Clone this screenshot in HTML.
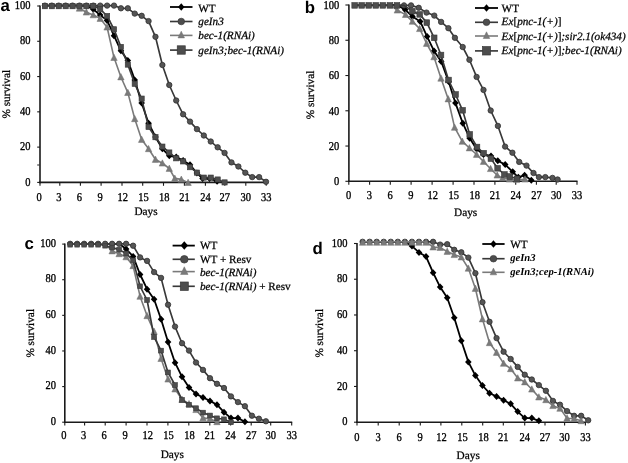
<!DOCTYPE html>
<html><head><meta charset="utf-8"><style>
html,body{margin:0;padding:0;background:#fff;width:628px;height:463px;overflow:hidden}
svg{display:block;will-change:transform;text-rendering:geometricPrecision}
.t{font-family:"Liberation Serif",serif;font-size:10.5px;fill:#000;stroke:#000;stroke-width:0.3px}
.l{font-family:"Liberation Serif",serif;font-size:11.2px;fill:#000;stroke:#000;stroke-width:0.25px}
.h{font-family:"Liberation Serif",serif;font-size:11.3px;fill:#000;stroke:#000;stroke-width:0.25px}
.p{font-family:"Liberation Sans",sans-serif;font-weight:bold;font-size:16.8px;fill:#000}
</style></head><body>
<svg width="628" height="463" viewBox="0 0 628 463">
<rect width="628" height="463" fill="#fff"/>
<line x1="40" y1="5.5" x2="40" y2="183.2" stroke="#1a1a1a" stroke-width="1.6"/>
<line x1="39.2" y1="182.4" x2="266.8" y2="182.4" stroke="#1a1a1a" stroke-width="1.6"/>
<line x1="37.2" y1="182.4" x2="40" y2="182.4" stroke="#1a1a1a" stroke-width="1.1"/>
<text transform="translate(30.4,185.6) scale(1,1.14)" text-anchor="end" class="t">0</text>
<line x1="37.2" y1="147.12" x2="40" y2="147.12" stroke="#1a1a1a" stroke-width="1.1"/>
<text transform="translate(30.4,150.32) scale(1,1.14)" text-anchor="end" class="t">20</text>
<line x1="37.2" y1="111.84" x2="40" y2="111.84" stroke="#1a1a1a" stroke-width="1.1"/>
<text transform="translate(30.4,115.04) scale(1,1.14)" text-anchor="end" class="t">40</text>
<line x1="37.2" y1="76.56" x2="40" y2="76.56" stroke="#1a1a1a" stroke-width="1.1"/>
<text transform="translate(30.4,79.76) scale(1,1.14)" text-anchor="end" class="t">60</text>
<line x1="37.2" y1="41.28" x2="40" y2="41.28" stroke="#1a1a1a" stroke-width="1.1"/>
<text transform="translate(30.4,44.48) scale(1,1.14)" text-anchor="end" class="t">80</text>
<line x1="37.2" y1="6" x2="40" y2="6" stroke="#1a1a1a" stroke-width="1.1"/>
<text transform="translate(30.4,9.2) scale(1,1.14)" text-anchor="end" class="t">100</text>
<line x1="40" y1="182.4" x2="40" y2="185.8" stroke="#1a1a1a" stroke-width="1.1"/>
<text transform="translate(39,201.1) scale(1,1.14)" text-anchor="middle" class="t">0</text>
<line x1="59.8" y1="182.4" x2="59.8" y2="185.8" stroke="#1a1a1a" stroke-width="1.1"/>
<text transform="translate(58.8,201.1) scale(1,1.14)" text-anchor="middle" class="t">3</text>
<line x1="80.4" y1="182.4" x2="80.4" y2="185.8" stroke="#1a1a1a" stroke-width="1.1"/>
<text transform="translate(79.4,201.1) scale(1,1.14)" text-anchor="middle" class="t">6</text>
<line x1="101.1" y1="182.4" x2="101.1" y2="185.8" stroke="#1a1a1a" stroke-width="1.1"/>
<text transform="translate(100.1,201.1) scale(1,1.14)" text-anchor="middle" class="t">9</text>
<line x1="122" y1="182.4" x2="122" y2="185.8" stroke="#1a1a1a" stroke-width="1.1"/>
<text transform="translate(122.7,201.1) scale(1,1.14)" text-anchor="middle" class="t">12</text>
<line x1="142.7" y1="182.4" x2="142.7" y2="185.8" stroke="#1a1a1a" stroke-width="1.1"/>
<text transform="translate(143.4,201.1) scale(1,1.14)" text-anchor="middle" class="t">15</text>
<line x1="163.5" y1="182.4" x2="163.5" y2="185.8" stroke="#1a1a1a" stroke-width="1.1"/>
<text transform="translate(164.2,201.1) scale(1,1.14)" text-anchor="middle" class="t">18</text>
<line x1="184.4" y1="182.4" x2="184.4" y2="185.8" stroke="#1a1a1a" stroke-width="1.1"/>
<text transform="translate(184.4,201.1) scale(1,1.14)" text-anchor="middle" class="t">21</text>
<line x1="205.4" y1="182.4" x2="205.4" y2="185.8" stroke="#1a1a1a" stroke-width="1.1"/>
<text transform="translate(205.4,201.1) scale(1,1.14)" text-anchor="middle" class="t">24</text>
<line x1="224.8" y1="182.4" x2="224.8" y2="185.8" stroke="#1a1a1a" stroke-width="1.1"/>
<text transform="translate(224.8,201.1) scale(1,1.14)" text-anchor="middle" class="t">27</text>
<line x1="245.8" y1="182.4" x2="245.8" y2="185.8" stroke="#1a1a1a" stroke-width="1.1"/>
<text transform="translate(245.8,201.1) scale(1,1.14)" text-anchor="middle" class="t">30</text>
<line x1="266.2" y1="182.4" x2="266.2" y2="185.8" stroke="#1a1a1a" stroke-width="1.1"/>
<text transform="translate(266.2,201.1) scale(1,1.14)" text-anchor="middle" class="t">33</text>
<line x1="37.2" y1="165" x2="40" y2="165" stroke="#333" stroke-width="1.1"/>
<polyline fill="none" stroke="#000" stroke-width="1.8" stroke-linejoin="round" points="44.91,5.6 51.82,5.6 58.73,5.6 65.64,5.6 72.55,5.6 79.46,5.6 86.37,5.6 93.28,9.2 100.19,15.1 107.1,20.4 114.01,35.7 120.92,50.8 127.83,60.5 134.74,79.9 141.65,103 148.56,123.2 155.47,137 162.38,148.8 169.29,155.8 176.2,157 183.11,160.4 190.02,164.8 196.93,173 202.6,178.6 209.5,178.6 217.1,181.2"/>
<polygon points="93.28,5.7 96.58,9.2 93.28,12.7 89.98,9.2" fill="#000"/>
<polygon points="100.19,11.6 103.49,15.1 100.19,18.6 96.89,15.1" fill="#000"/>
<polygon points="107.1,16.9 110.4,20.4 107.1,23.9 103.8,20.4" fill="#000"/>
<polygon points="114.01,32.2 117.31,35.7 114.01,39.2 110.71,35.7" fill="#000"/>
<polygon points="120.92,47.3 124.22,50.8 120.92,54.3 117.62,50.8" fill="#000"/>
<polygon points="127.83,57 131.13,60.5 127.83,64 124.53,60.5" fill="#000"/>
<polygon points="134.74,76.4 138.04,79.9 134.74,83.4 131.44,79.9" fill="#000"/>
<polygon points="141.65,99.5 144.95,103 141.65,106.5 138.35,103" fill="#000"/>
<polygon points="148.56,119.7 151.86,123.2 148.56,126.7 145.26,123.2" fill="#000"/>
<polygon points="155.47,133.5 158.77,137 155.47,140.5 152.17,137" fill="#000"/>
<polygon points="162.38,145.3 165.68,148.8 162.38,152.3 159.08,148.8" fill="#000"/>
<polygon points="169.29,152.3 172.59,155.8 169.29,159.3 165.99,155.8" fill="#000"/>
<polygon points="176.2,153.5 179.5,157 176.2,160.5 172.9,157" fill="#000"/>
<polygon points="183.11,156.9 186.41,160.4 183.11,163.9 179.81,160.4" fill="#000"/>
<polygon points="190.02,161.3 193.32,164.8 190.02,168.3 186.72,164.8" fill="#000"/>
<polygon points="196.93,169.5 200.23,173 196.93,176.5 193.63,173" fill="#000"/>
<polygon points="202.6,175.1 205.9,178.6 202.6,182.1 199.3,178.6" fill="#000"/>
<polygon points="209.5,175.1 212.8,178.6 209.5,182.1 206.2,178.6" fill="#000"/>
<polygon points="217.1,177.7 220.4,181.2 217.1,184.7 213.8,181.2" fill="#000"/>
<polyline fill="none" stroke="#383838" stroke-width="1.65" stroke-linejoin="round" points="44.91,5.6 51.82,5.6 58.73,5.6 65.64,5.6 72.55,5.6 79.46,5.6 86.37,5.6 93.28,5.6 100.19,5.6 107.1,5.6 114.01,5.6 120.92,8.3 127.83,8.3 134.74,13.6 141.65,15.8 148.56,21.1 155.47,36.8 162.38,65 169.29,85 176.2,100.5 183.11,114.3 190.02,121.6 196.93,129.1 203.84,135.5 210.75,141.5 217.66,147.3 224.57,152.9 231.48,162.4 238.39,166.5 245.3,172.7 252.21,177.1 259.12,177.1 266.03,181.8"/>
<circle cx="44.91" cy="5.6" r="2.7" fill="#555" stroke="#303030" stroke-width="0.8"/>
<circle cx="51.82" cy="5.6" r="2.7" fill="#555" stroke="#303030" stroke-width="0.8"/>
<circle cx="58.73" cy="5.6" r="2.7" fill="#555" stroke="#303030" stroke-width="0.8"/>
<circle cx="65.64" cy="5.6" r="2.7" fill="#555" stroke="#303030" stroke-width="0.8"/>
<circle cx="72.55" cy="5.6" r="2.7" fill="#555" stroke="#303030" stroke-width="0.8"/>
<circle cx="79.46" cy="5.6" r="2.7" fill="#555" stroke="#303030" stroke-width="0.8"/>
<circle cx="86.37" cy="5.6" r="2.7" fill="#555" stroke="#303030" stroke-width="0.8"/>
<circle cx="93.28" cy="5.6" r="2.7" fill="#555" stroke="#303030" stroke-width="0.8"/>
<circle cx="100.19" cy="5.6" r="2.7" fill="#555" stroke="#303030" stroke-width="0.8"/>
<circle cx="107.1" cy="5.6" r="2.7" fill="#555" stroke="#303030" stroke-width="0.8"/>
<circle cx="114.01" cy="5.6" r="2.7" fill="#555" stroke="#303030" stroke-width="0.8"/>
<circle cx="120.92" cy="8.3" r="2.7" fill="#555" stroke="#303030" stroke-width="0.8"/>
<circle cx="127.83" cy="8.3" r="2.7" fill="#555" stroke="#303030" stroke-width="0.8"/>
<circle cx="134.74" cy="13.6" r="2.7" fill="#555" stroke="#303030" stroke-width="0.8"/>
<circle cx="141.65" cy="15.8" r="2.7" fill="#555" stroke="#303030" stroke-width="0.8"/>
<circle cx="148.56" cy="21.1" r="2.7" fill="#555" stroke="#303030" stroke-width="0.8"/>
<circle cx="155.47" cy="36.8" r="2.7" fill="#555" stroke="#303030" stroke-width="0.8"/>
<circle cx="162.38" cy="65" r="2.7" fill="#555" stroke="#303030" stroke-width="0.8"/>
<circle cx="169.29" cy="85" r="2.7" fill="#555" stroke="#303030" stroke-width="0.8"/>
<circle cx="176.2" cy="100.5" r="2.7" fill="#555" stroke="#303030" stroke-width="0.8"/>
<circle cx="183.11" cy="114.3" r="2.7" fill="#555" stroke="#303030" stroke-width="0.8"/>
<circle cx="190.02" cy="121.6" r="2.7" fill="#555" stroke="#303030" stroke-width="0.8"/>
<circle cx="196.93" cy="129.1" r="2.7" fill="#555" stroke="#303030" stroke-width="0.8"/>
<circle cx="203.84" cy="135.5" r="2.7" fill="#555" stroke="#303030" stroke-width="0.8"/>
<circle cx="210.75" cy="141.5" r="2.7" fill="#555" stroke="#303030" stroke-width="0.8"/>
<circle cx="217.66" cy="147.3" r="2.7" fill="#555" stroke="#303030" stroke-width="0.8"/>
<circle cx="224.57" cy="152.9" r="2.7" fill="#555" stroke="#303030" stroke-width="0.8"/>
<circle cx="231.48" cy="162.4" r="2.7" fill="#555" stroke="#303030" stroke-width="0.8"/>
<circle cx="238.39" cy="166.5" r="2.7" fill="#555" stroke="#303030" stroke-width="0.8"/>
<circle cx="245.3" cy="172.7" r="2.7" fill="#555" stroke="#303030" stroke-width="0.8"/>
<circle cx="252.21" cy="177.1" r="2.7" fill="#555" stroke="#303030" stroke-width="0.8"/>
<circle cx="259.12" cy="177.1" r="2.7" fill="#555" stroke="#303030" stroke-width="0.8"/>
<circle cx="266.03" cy="181.8" r="2.7" fill="#555" stroke="#303030" stroke-width="0.8"/>
<polyline fill="none" stroke="#7a7a7a" stroke-width="1.6" stroke-linejoin="round" points="44.91,5.6 51.82,5.6 58.73,5.6 65.64,5.6 72.55,5.6 79.46,8.3 86.37,12.2 93.28,14.9 100.19,18.5 107.1,27.2 114.01,57.6 120.92,77 127.83,92.6 134.74,118.8 141.65,139.5 148.56,148.8 155.47,159.5 162.38,163.2 169.29,168.5 174.8,178.4 181.3,179.4 188.1,182.6"/>
<polygon points="79.46,4.9 82.66,11.19 76.26,11.19" fill="#7a7a7a" stroke="#707070" stroke-width="0.5"/>
<polygon points="86.37,8.8 89.57,15.09 83.17,15.09" fill="#7a7a7a" stroke="#707070" stroke-width="0.5"/>
<polygon points="93.28,11.5 96.48,17.79 90.08,17.79" fill="#7a7a7a" stroke="#707070" stroke-width="0.5"/>
<polygon points="100.19,15.1 103.39,21.39 96.99,21.39" fill="#7a7a7a" stroke="#707070" stroke-width="0.5"/>
<polygon points="107.1,23.8 110.3,30.09 103.9,30.09" fill="#7a7a7a" stroke="#707070" stroke-width="0.5"/>
<polygon points="114.01,54.2 117.21,60.49 110.81,60.49" fill="#7a7a7a" stroke="#707070" stroke-width="0.5"/>
<polygon points="120.92,73.6 124.12,79.89 117.72,79.89" fill="#7a7a7a" stroke="#707070" stroke-width="0.5"/>
<polygon points="127.83,89.2 131.03,95.49 124.63,95.49" fill="#7a7a7a" stroke="#707070" stroke-width="0.5"/>
<polygon points="134.74,115.4 137.94,121.69 131.54,121.69" fill="#7a7a7a" stroke="#707070" stroke-width="0.5"/>
<polygon points="141.65,136.1 144.85,142.39 138.45,142.39" fill="#7a7a7a" stroke="#707070" stroke-width="0.5"/>
<polygon points="148.56,145.4 151.76,151.69 145.36,151.69" fill="#7a7a7a" stroke="#707070" stroke-width="0.5"/>
<polygon points="155.47,156.1 158.67,162.39 152.27,162.39" fill="#7a7a7a" stroke="#707070" stroke-width="0.5"/>
<polygon points="162.38,159.8 165.58,166.09 159.18,166.09" fill="#7a7a7a" stroke="#707070" stroke-width="0.5"/>
<polygon points="169.29,165.1 172.49,171.39 166.09,171.39" fill="#7a7a7a" stroke="#707070" stroke-width="0.5"/>
<polygon points="174.8,175 178,181.29 171.6,181.29" fill="#7a7a7a" stroke="#707070" stroke-width="0.5"/>
<polygon points="181.3,176 184.5,182.29 178.1,182.29" fill="#7a7a7a" stroke="#707070" stroke-width="0.5"/>
<polygon points="188.1,179.2 191.3,185.49 184.9,185.49" fill="#7a7a7a" stroke="#707070" stroke-width="0.5"/>
<polyline fill="none" stroke="#383838" stroke-width="1.65" stroke-linejoin="round" points="44.91,5.6 51.82,5.6 58.73,5.6 65.64,5.6 72.55,5.6 79.46,5.6 86.37,5.6 93.28,5.6 100.19,9.2 107.1,16 114.01,29.3 120.92,46.9 127.83,64.6 134.74,83.8 141.65,98.6 148.56,127 155.47,137.2 162.38,146.6 169.29,152.5 176.2,158.3 183.11,161.4 190.02,167.2 196.93,172.6 203.84,177.6 210.75,177.6 217.66,179.5 224.57,182.4"/>
<rect x="42.31" y="3.6" width="5.2" height="5.2" fill="#4d4d4d" stroke="#383838" stroke-width="0.6"/>
<rect x="49.22" y="3.6" width="5.2" height="5.2" fill="#4d4d4d" stroke="#383838" stroke-width="0.6"/>
<rect x="56.13" y="3.6" width="5.2" height="5.2" fill="#4d4d4d" stroke="#383838" stroke-width="0.6"/>
<rect x="63.04" y="3.6" width="5.2" height="5.2" fill="#4d4d4d" stroke="#383838" stroke-width="0.6"/>
<rect x="69.95" y="3.6" width="5.2" height="5.2" fill="#4d4d4d" stroke="#383838" stroke-width="0.6"/>
<rect x="76.86" y="3.6" width="5.2" height="5.2" fill="#4d4d4d" stroke="#383838" stroke-width="0.6"/>
<rect x="83.77" y="3.6" width="5.2" height="5.2" fill="#4d4d4d" stroke="#383838" stroke-width="0.6"/>
<rect x="90.68" y="3.6" width="5.2" height="5.2" fill="#4d4d4d" stroke="#383838" stroke-width="0.6"/>
<rect x="97.59" y="6.6" width="5.2" height="5.2" fill="#4d4d4d" stroke="#383838" stroke-width="0.6"/>
<rect x="104.5" y="13.4" width="5.2" height="5.2" fill="#4d4d4d" stroke="#383838" stroke-width="0.6"/>
<rect x="111.41" y="26.7" width="5.2" height="5.2" fill="#4d4d4d" stroke="#383838" stroke-width="0.6"/>
<rect x="118.32" y="44.3" width="5.2" height="5.2" fill="#4d4d4d" stroke="#383838" stroke-width="0.6"/>
<rect x="125.23" y="62" width="5.2" height="5.2" fill="#4d4d4d" stroke="#383838" stroke-width="0.6"/>
<rect x="132.14" y="81.2" width="5.2" height="5.2" fill="#4d4d4d" stroke="#383838" stroke-width="0.6"/>
<rect x="139.05" y="96" width="5.2" height="5.2" fill="#4d4d4d" stroke="#383838" stroke-width="0.6"/>
<rect x="145.96" y="124.4" width="5.2" height="5.2" fill="#4d4d4d" stroke="#383838" stroke-width="0.6"/>
<rect x="152.87" y="134.6" width="5.2" height="5.2" fill="#4d4d4d" stroke="#383838" stroke-width="0.6"/>
<rect x="159.78" y="144" width="5.2" height="5.2" fill="#4d4d4d" stroke="#383838" stroke-width="0.6"/>
<rect x="166.69" y="149.9" width="5.2" height="5.2" fill="#4d4d4d" stroke="#383838" stroke-width="0.6"/>
<rect x="173.6" y="155.7" width="5.2" height="5.2" fill="#4d4d4d" stroke="#383838" stroke-width="0.6"/>
<rect x="180.51" y="158.8" width="5.2" height="5.2" fill="#4d4d4d" stroke="#383838" stroke-width="0.6"/>
<rect x="187.42" y="164.6" width="5.2" height="5.2" fill="#4d4d4d" stroke="#383838" stroke-width="0.6"/>
<rect x="194.33" y="170" width="5.2" height="5.2" fill="#4d4d4d" stroke="#383838" stroke-width="0.6"/>
<rect x="201.24" y="175" width="5.2" height="5.2" fill="#4d4d4d" stroke="#383838" stroke-width="0.6"/>
<rect x="208.15" y="175" width="5.2" height="5.2" fill="#4d4d4d" stroke="#383838" stroke-width="0.6"/>
<rect x="215.06" y="176.9" width="5.2" height="5.2" fill="#4d4d4d" stroke="#383838" stroke-width="0.6"/>
<rect x="221.97" y="179.8" width="5.2" height="5.2" fill="#4d4d4d" stroke="#383838" stroke-width="0.6"/>
<line x1="170" y1="7" x2="192.5" y2="7" stroke="#000" stroke-width="1.8"/>
<polygon points="181.25,3.3 184.45,7 181.25,10.7 178.05,7" fill="#000"/>
<text x="198.3" y="11.7" class="l">WT</text>
<line x1="170" y1="21.5" x2="192.5" y2="21.5" stroke="#383838" stroke-width="1.65"/>
<circle cx="181.25" cy="21.5" r="3.3" fill="#4d4d4d" stroke="#383838" stroke-width="0.7"/>
<text x="198.3" y="25.4" class="l"><tspan font-style="italic">geIn3</tspan></text>
<line x1="170" y1="35.4" x2="192.5" y2="35.4" stroke="#7a7a7a" stroke-width="1.6"/>
<polygon points="181.25,31.2 184.5,37.9 178,37.9" fill="#7a7a7a" stroke="#707070" stroke-width="0.5"/>
<text x="198.3" y="39.4" class="l"><tspan font-style="italic">bec-1(RNAi)</tspan></text>
<line x1="170" y1="50.1" x2="192.5" y2="50.1" stroke="#383838" stroke-width="1.65"/>
<rect x="177.25" y="45.8" width="8" height="8.4" fill="#4d4d4d" stroke="#383838" stroke-width="0.7"/>
<text x="198.3" y="53.5" class="l"><tspan font-style="italic">geIn3;bec-1(RNAi)</tspan></text>
<text x="146" y="214.9" text-anchor="middle" class="h">Days</text>
<text transform="translate(9.6,94.2) rotate(-90)" text-anchor="middle" class="h">% survival</text>
<text x="0.5" y="10.5" class="p">a</text>
<line x1="348.9" y1="4.5" x2="348.9" y2="182.1" stroke="#1a1a1a" stroke-width="1.6"/>
<line x1="348.1" y1="181.3" x2="577.5" y2="181.3" stroke="#1a1a1a" stroke-width="1.6"/>
<line x1="345.4" y1="181.3" x2="348.9" y2="181.3" stroke="#1a1a1a" stroke-width="1.1"/>
<text transform="translate(339.2,185.2) scale(1,1.14)" text-anchor="end" class="t">0</text>
<line x1="345.4" y1="146.04" x2="348.9" y2="146.04" stroke="#1a1a1a" stroke-width="1.1"/>
<text transform="translate(339.2,149.94) scale(1,1.14)" text-anchor="end" class="t">20</text>
<line x1="345.4" y1="110.78" x2="348.9" y2="110.78" stroke="#1a1a1a" stroke-width="1.1"/>
<text transform="translate(339.2,114.68) scale(1,1.14)" text-anchor="end" class="t">40</text>
<line x1="345.4" y1="75.52" x2="348.9" y2="75.52" stroke="#1a1a1a" stroke-width="1.1"/>
<text transform="translate(339.2,79.42) scale(1,1.14)" text-anchor="end" class="t">60</text>
<line x1="345.4" y1="40.26" x2="348.9" y2="40.26" stroke="#1a1a1a" stroke-width="1.1"/>
<text transform="translate(339.2,44.16) scale(1,1.14)" text-anchor="end" class="t">80</text>
<line x1="345.4" y1="5" x2="348.9" y2="5" stroke="#1a1a1a" stroke-width="1.1"/>
<text transform="translate(339.2,8.9) scale(1,1.14)" text-anchor="end" class="t">100</text>
<line x1="348.8" y1="181.3" x2="348.8" y2="184.7" stroke="#1a1a1a" stroke-width="1.1"/>
<text transform="translate(348.5,198.8) scale(1,1.14)" text-anchor="middle" class="t">0</text>
<line x1="369.6" y1="181.3" x2="369.6" y2="184.7" stroke="#1a1a1a" stroke-width="1.1"/>
<text transform="translate(369.3,198.8) scale(1,1.14)" text-anchor="middle" class="t">3</text>
<line x1="390.3" y1="181.3" x2="390.3" y2="184.7" stroke="#1a1a1a" stroke-width="1.1"/>
<text transform="translate(390,198.8) scale(1,1.14)" text-anchor="middle" class="t">6</text>
<line x1="411.1" y1="181.3" x2="411.1" y2="184.7" stroke="#1a1a1a" stroke-width="1.1"/>
<text transform="translate(410.8,198.8) scale(1,1.14)" text-anchor="middle" class="t">9</text>
<line x1="432.1" y1="181.3" x2="432.1" y2="184.7" stroke="#1a1a1a" stroke-width="1.1"/>
<text transform="translate(432.8,198.8) scale(1,1.14)" text-anchor="middle" class="t">12</text>
<line x1="453.1" y1="181.3" x2="453.1" y2="184.7" stroke="#1a1a1a" stroke-width="1.1"/>
<text transform="translate(453.8,198.8) scale(1,1.14)" text-anchor="middle" class="t">15</text>
<line x1="474" y1="181.3" x2="474" y2="184.7" stroke="#1a1a1a" stroke-width="1.1"/>
<text transform="translate(474.7,198.8) scale(1,1.14)" text-anchor="middle" class="t">18</text>
<line x1="494.9" y1="181.3" x2="494.9" y2="184.7" stroke="#1a1a1a" stroke-width="1.1"/>
<text transform="translate(494.9,198.8) scale(1,1.14)" text-anchor="middle" class="t">21</text>
<line x1="515.7" y1="181.3" x2="515.7" y2="184.7" stroke="#1a1a1a" stroke-width="1.1"/>
<text transform="translate(515.7,198.8) scale(1,1.14)" text-anchor="middle" class="t">24</text>
<line x1="536.4" y1="181.3" x2="536.4" y2="184.7" stroke="#1a1a1a" stroke-width="1.1"/>
<text transform="translate(536.4,198.8) scale(1,1.14)" text-anchor="middle" class="t">27</text>
<line x1="556.2" y1="181.3" x2="556.2" y2="184.7" stroke="#1a1a1a" stroke-width="1.1"/>
<text transform="translate(556.2,198.8) scale(1,1.14)" text-anchor="middle" class="t">30</text>
<line x1="577" y1="181.3" x2="577" y2="184.7" stroke="#1a1a1a" stroke-width="1.1"/>
<text transform="translate(577,198.8) scale(1,1.14)" text-anchor="middle" class="t">33</text>
<polyline fill="none" stroke="#000" stroke-width="1.8" stroke-linejoin="round" points="354.65,5 361.7,5 368.75,5 375.8,5 382.85,5 389.9,5 396.95,5 405.1,9.7 412.4,16.5 420.2,21.4 427.1,36.6 434,50.9 441.2,61.4 448.6,81.5 455.4,102.9 462.8,123.2 469.7,138.2 476.6,149 483.5,154.5 491,156 497.8,160.7 505.2,164.6 512.7,171.8 518.3,177.3 524.6,175.2 531.3,180.3"/>
<polygon points="405.1,6.2 408.4,9.7 405.1,13.2 401.8,9.7" fill="#000"/>
<polygon points="412.4,13 415.7,16.5 412.4,20 409.1,16.5" fill="#000"/>
<polygon points="420.2,17.9 423.5,21.4 420.2,24.9 416.9,21.4" fill="#000"/>
<polygon points="427.1,33.1 430.4,36.6 427.1,40.1 423.8,36.6" fill="#000"/>
<polygon points="434,47.4 437.3,50.9 434,54.4 430.7,50.9" fill="#000"/>
<polygon points="441.2,57.9 444.5,61.4 441.2,64.9 437.9,61.4" fill="#000"/>
<polygon points="448.6,78 451.9,81.5 448.6,85 445.3,81.5" fill="#000"/>
<polygon points="455.4,99.4 458.7,102.9 455.4,106.4 452.1,102.9" fill="#000"/>
<polygon points="462.8,119.7 466.1,123.2 462.8,126.7 459.5,123.2" fill="#000"/>
<polygon points="469.7,134.7 473,138.2 469.7,141.7 466.4,138.2" fill="#000"/>
<polygon points="476.6,145.5 479.9,149 476.6,152.5 473.3,149" fill="#000"/>
<polygon points="483.5,151 486.8,154.5 483.5,158 480.2,154.5" fill="#000"/>
<polygon points="491,152.5 494.3,156 491,159.5 487.7,156" fill="#000"/>
<polygon points="497.8,157.2 501.1,160.7 497.8,164.2 494.5,160.7" fill="#000"/>
<polygon points="505.2,161.1 508.5,164.6 505.2,168.1 501.9,164.6" fill="#000"/>
<polygon points="512.7,168.3 516,171.8 512.7,175.3 509.4,171.8" fill="#000"/>
<polygon points="518.3,173.8 521.6,177.3 518.3,180.8 515,177.3" fill="#000"/>
<polygon points="524.6,171.7 527.9,175.2 524.6,178.7 521.3,175.2" fill="#000"/>
<polygon points="531.3,176.8 534.6,180.3 531.3,183.8 528,180.3" fill="#000"/>
<polyline fill="none" stroke="#383838" stroke-width="1.65" stroke-linejoin="round" points="354.65,5.4 361.7,5.4 368.75,5.4 375.8,5.4 382.85,5.4 389.9,5.4 396.95,5.4 404,5.4 411.05,5.4 418.7,7.8 426.5,12.6 434.3,15.6 441.1,21.9 448.4,28.2 454.9,37.8 462.7,47 469.4,59.8 476.6,76.9 483.5,89.9 490.7,110.5 497.9,125.9 505.1,146.6 512.4,152.7 519.2,161.9 526.5,165.6 533.5,173 538.9,177.1 545.3,177.1 552.5,177.9 557.6,179.5"/>
<circle cx="404" cy="5.4" r="2.7" fill="#555" stroke="#303030" stroke-width="0.8"/>
<circle cx="411.05" cy="5.4" r="2.7" fill="#555" stroke="#303030" stroke-width="0.8"/>
<circle cx="418.7" cy="7.8" r="2.7" fill="#555" stroke="#303030" stroke-width="0.8"/>
<circle cx="426.5" cy="12.6" r="2.7" fill="#555" stroke="#303030" stroke-width="0.8"/>
<circle cx="434.3" cy="15.6" r="2.7" fill="#555" stroke="#303030" stroke-width="0.8"/>
<circle cx="441.1" cy="21.9" r="2.7" fill="#555" stroke="#303030" stroke-width="0.8"/>
<circle cx="448.4" cy="28.2" r="2.7" fill="#555" stroke="#303030" stroke-width="0.8"/>
<circle cx="454.9" cy="37.8" r="2.7" fill="#555" stroke="#303030" stroke-width="0.8"/>
<circle cx="462.7" cy="47" r="2.7" fill="#555" stroke="#303030" stroke-width="0.8"/>
<circle cx="469.4" cy="59.8" r="2.7" fill="#555" stroke="#303030" stroke-width="0.8"/>
<circle cx="476.6" cy="76.9" r="2.7" fill="#555" stroke="#303030" stroke-width="0.8"/>
<circle cx="483.5" cy="89.9" r="2.7" fill="#555" stroke="#303030" stroke-width="0.8"/>
<circle cx="490.7" cy="110.5" r="2.7" fill="#555" stroke="#303030" stroke-width="0.8"/>
<circle cx="497.9" cy="125.9" r="2.7" fill="#555" stroke="#303030" stroke-width="0.8"/>
<circle cx="505.1" cy="146.6" r="2.7" fill="#555" stroke="#303030" stroke-width="0.8"/>
<circle cx="512.4" cy="152.7" r="2.7" fill="#555" stroke="#303030" stroke-width="0.8"/>
<circle cx="519.2" cy="161.9" r="2.7" fill="#555" stroke="#303030" stroke-width="0.8"/>
<circle cx="526.5" cy="165.6" r="2.7" fill="#555" stroke="#303030" stroke-width="0.8"/>
<circle cx="533.5" cy="173" r="2.7" fill="#555" stroke="#303030" stroke-width="0.8"/>
<circle cx="538.9" cy="177.1" r="2.7" fill="#555" stroke="#303030" stroke-width="0.8"/>
<circle cx="545.3" cy="177.1" r="2.7" fill="#555" stroke="#303030" stroke-width="0.8"/>
<circle cx="552.5" cy="177.9" r="2.7" fill="#555" stroke="#303030" stroke-width="0.8"/>
<circle cx="557.6" cy="179.5" r="2.7" fill="#555" stroke="#303030" stroke-width="0.8"/>
<polyline fill="none" stroke="#7a7a7a" stroke-width="1.6" stroke-linejoin="round" points="354.65,5 361.7,5 368.75,5 375.8,5 382.85,5 389.9,5 397.3,10.2 405.6,14.6 412.4,21.4 419.7,28.7 426.6,43.5 434,56.9 441,78.3 448.2,99 454.6,127.4 462.3,141.4 469.4,148 476.6,154.5 483.5,161.5 490.6,168.7 497.2,175.2 502.5,178.2 509.5,179.2 516.6,179.7 525,179.2"/>
<polygon points="397.3,6.8 400.5,13.09 394.1,13.09" fill="#7a7a7a" stroke="#707070" stroke-width="0.5"/>
<polygon points="405.6,11.2 408.8,17.49 402.4,17.49" fill="#7a7a7a" stroke="#707070" stroke-width="0.5"/>
<polygon points="412.4,18 415.6,24.29 409.2,24.29" fill="#7a7a7a" stroke="#707070" stroke-width="0.5"/>
<polygon points="419.7,25.3 422.9,31.59 416.5,31.59" fill="#7a7a7a" stroke="#707070" stroke-width="0.5"/>
<polygon points="426.6,40.1 429.8,46.39 423.4,46.39" fill="#7a7a7a" stroke="#707070" stroke-width="0.5"/>
<polygon points="434,53.5 437.2,59.79 430.8,59.79" fill="#7a7a7a" stroke="#707070" stroke-width="0.5"/>
<polygon points="441,74.9 444.2,81.19 437.8,81.19" fill="#7a7a7a" stroke="#707070" stroke-width="0.5"/>
<polygon points="448.2,95.6 451.4,101.89 445,101.89" fill="#7a7a7a" stroke="#707070" stroke-width="0.5"/>
<polygon points="454.6,124 457.8,130.29 451.4,130.29" fill="#7a7a7a" stroke="#707070" stroke-width="0.5"/>
<polygon points="462.3,138 465.5,144.29 459.1,144.29" fill="#7a7a7a" stroke="#707070" stroke-width="0.5"/>
<polygon points="469.4,144.6 472.6,150.89 466.2,150.89" fill="#7a7a7a" stroke="#707070" stroke-width="0.5"/>
<polygon points="476.6,151.1 479.8,157.39 473.4,157.39" fill="#7a7a7a" stroke="#707070" stroke-width="0.5"/>
<polygon points="483.5,158.1 486.7,164.39 480.3,164.39" fill="#7a7a7a" stroke="#707070" stroke-width="0.5"/>
<polygon points="490.6,165.3 493.8,171.59 487.4,171.59" fill="#7a7a7a" stroke="#707070" stroke-width="0.5"/>
<polygon points="497.2,171.8 500.4,178.09 494,178.09" fill="#7a7a7a" stroke="#707070" stroke-width="0.5"/>
<polygon points="502.5,174.8 505.7,181.09 499.3,181.09" fill="#7a7a7a" stroke="#707070" stroke-width="0.5"/>
<polygon points="509.5,175.8 512.7,182.09 506.3,182.09" fill="#7a7a7a" stroke="#707070" stroke-width="0.5"/>
<polygon points="516.6,176.3 519.8,182.59 513.4,182.59" fill="#7a7a7a" stroke="#707070" stroke-width="0.5"/>
<polygon points="525,175.8 528.2,182.09 521.8,182.09" fill="#7a7a7a" stroke="#707070" stroke-width="0.5"/>
<polyline fill="none" stroke="#383838" stroke-width="1.65" stroke-linejoin="round" points="354.65,5.4 361.7,5.4 368.75,5.4 375.8,5.4 382.85,5.4 389.9,5.4 396.95,5.4 404,5.4 412.4,11.2 419.7,14.4 426.8,22.6 434.2,37.8 441,55 448.5,80 455.5,94.5 462.6,110.3 469.7,134.4 477,147 483.6,153.2 490.9,158.6 497.6,168.3 504.4,174.5 509.8,176.5 517,178.8"/>
<rect x="351.84" y="2.59" width="5.62" height="5.62" fill="#4d4d4d" stroke="#383838" stroke-width="0.6"/>
<rect x="358.89" y="2.59" width="5.62" height="5.62" fill="#4d4d4d" stroke="#383838" stroke-width="0.6"/>
<rect x="365.94" y="2.59" width="5.62" height="5.62" fill="#4d4d4d" stroke="#383838" stroke-width="0.6"/>
<rect x="372.99" y="2.59" width="5.62" height="5.62" fill="#4d4d4d" stroke="#383838" stroke-width="0.6"/>
<rect x="380.04" y="2.59" width="5.62" height="5.62" fill="#4d4d4d" stroke="#383838" stroke-width="0.6"/>
<rect x="387.09" y="2.59" width="5.62" height="5.62" fill="#4d4d4d" stroke="#383838" stroke-width="0.6"/>
<rect x="394.14" y="2.59" width="5.62" height="5.62" fill="#4d4d4d" stroke="#383838" stroke-width="0.6"/>
<rect x="409.59" y="8.39" width="5.62" height="5.62" fill="#4d4d4d" stroke="#383838" stroke-width="0.6"/>
<rect x="416.89" y="11.59" width="5.62" height="5.62" fill="#4d4d4d" stroke="#383838" stroke-width="0.6"/>
<rect x="423.99" y="19.79" width="5.62" height="5.62" fill="#4d4d4d" stroke="#383838" stroke-width="0.6"/>
<rect x="431.39" y="34.99" width="5.62" height="5.62" fill="#4d4d4d" stroke="#383838" stroke-width="0.6"/>
<rect x="438.19" y="52.19" width="5.62" height="5.62" fill="#4d4d4d" stroke="#383838" stroke-width="0.6"/>
<rect x="445.69" y="77.19" width="5.62" height="5.62" fill="#4d4d4d" stroke="#383838" stroke-width="0.6"/>
<rect x="452.69" y="91.69" width="5.62" height="5.62" fill="#4d4d4d" stroke="#383838" stroke-width="0.6"/>
<rect x="459.79" y="107.49" width="5.62" height="5.62" fill="#4d4d4d" stroke="#383838" stroke-width="0.6"/>
<rect x="466.89" y="131.59" width="5.62" height="5.62" fill="#4d4d4d" stroke="#383838" stroke-width="0.6"/>
<rect x="474.19" y="144.19" width="5.62" height="5.62" fill="#4d4d4d" stroke="#383838" stroke-width="0.6"/>
<rect x="480.79" y="150.39" width="5.62" height="5.62" fill="#4d4d4d" stroke="#383838" stroke-width="0.6"/>
<rect x="488.09" y="155.79" width="5.62" height="5.62" fill="#4d4d4d" stroke="#383838" stroke-width="0.6"/>
<rect x="494.79" y="165.49" width="5.62" height="5.62" fill="#4d4d4d" stroke="#383838" stroke-width="0.6"/>
<rect x="501.59" y="171.69" width="5.62" height="5.62" fill="#4d4d4d" stroke="#383838" stroke-width="0.6"/>
<rect x="506.99" y="173.69" width="5.62" height="5.62" fill="#4d4d4d" stroke="#383838" stroke-width="0.6"/>
<rect x="514.19" y="175.99" width="5.62" height="5.62" fill="#4d4d4d" stroke="#383838" stroke-width="0.6"/>
<line x1="475" y1="8" x2="498" y2="8" stroke="#000" stroke-width="1.8"/>
<polygon points="486.5,4.3 489.7,8 486.5,11.7 483.3,8" fill="#000"/>
<text x="501.6" y="11.7" class="l">WT</text>
<line x1="475" y1="22.3" x2="498" y2="22.3" stroke="#383838" stroke-width="1.65"/>
<circle cx="486.5" cy="22.3" r="3.3" fill="#4d4d4d" stroke="#383838" stroke-width="0.7"/>
<text x="501.6" y="24.7" class="l"><tspan font-style="italic">Ex</tspan>[<tspan font-style="italic">pnc-1(+)</tspan>]</text>
<line x1="475" y1="36" x2="498" y2="36" stroke="#7a7a7a" stroke-width="1.6"/>
<polygon points="486.5,31.8 489.75,38.5 483.25,38.5" fill="#7a7a7a" stroke="#707070" stroke-width="0.5"/>
<text x="501.6" y="39.6" class="l"><tspan font-style="italic">Ex</tspan>[<tspan font-style="italic">pnc-1(+)</tspan>]<tspan font-style="italic">;sir2.1(ok434)</tspan></text>
<line x1="475" y1="50.9" x2="498" y2="50.9" stroke="#383838" stroke-width="1.65"/>
<rect x="482.5" y="46.6" width="8" height="8.4" fill="#4d4d4d" stroke="#383838" stroke-width="0.7"/>
<text x="501.6" y="54.1" class="l"><tspan font-style="italic">Ex</tspan>[<tspan font-style="italic">pnc-1(+)</tspan>]<tspan font-style="italic">;bec-1(RNAi)</tspan></text>
<text x="465.6" y="216" text-anchor="middle" class="h">Days</text>
<text transform="translate(314.4,95) rotate(-90)" text-anchor="middle" class="h">% survival</text>
<text x="304.8" y="13" class="p">b</text>
<line x1="64.8" y1="243.6" x2="64.8" y2="423" stroke="#1a1a1a" stroke-width="1.6"/>
<line x1="64" y1="422.2" x2="292.2" y2="422.2" stroke="#1a1a1a" stroke-width="1.6"/>
<line x1="62.2" y1="422.2" x2="64.8" y2="422.2" stroke="#1a1a1a" stroke-width="1.1"/>
<text transform="translate(56,424.8) scale(1,1.14)" text-anchor="end" class="t">0</text>
<line x1="62.2" y1="386.58" x2="64.8" y2="386.58" stroke="#1a1a1a" stroke-width="1.1"/>
<text transform="translate(56,389.18) scale(1,1.14)" text-anchor="end" class="t">20</text>
<line x1="62.2" y1="350.96" x2="64.8" y2="350.96" stroke="#1a1a1a" stroke-width="1.1"/>
<text transform="translate(56,353.56) scale(1,1.14)" text-anchor="end" class="t">40</text>
<line x1="62.2" y1="315.34" x2="64.8" y2="315.34" stroke="#1a1a1a" stroke-width="1.1"/>
<text transform="translate(56,317.94) scale(1,1.14)" text-anchor="end" class="t">60</text>
<line x1="62.2" y1="279.72" x2="64.8" y2="279.72" stroke="#1a1a1a" stroke-width="1.1"/>
<text transform="translate(56,282.32) scale(1,1.14)" text-anchor="end" class="t">80</text>
<line x1="62.2" y1="244.1" x2="64.8" y2="244.1" stroke="#1a1a1a" stroke-width="1.1"/>
<text transform="translate(56,246.7) scale(1,1.14)" text-anchor="end" class="t">100</text>
<line x1="64.8" y1="422.2" x2="64.8" y2="425.6" stroke="#1a1a1a" stroke-width="1.1"/>
<text transform="translate(63.8,439.2) scale(1,1.14)" text-anchor="middle" class="t">0</text>
<line x1="84.6" y1="422.2" x2="84.6" y2="425.6" stroke="#1a1a1a" stroke-width="1.1"/>
<text transform="translate(83.6,439.2) scale(1,1.14)" text-anchor="middle" class="t">3</text>
<line x1="105.2" y1="422.2" x2="105.2" y2="425.6" stroke="#1a1a1a" stroke-width="1.1"/>
<text transform="translate(104.2,439.2) scale(1,1.14)" text-anchor="middle" class="t">6</text>
<line x1="126.1" y1="422.2" x2="126.1" y2="425.6" stroke="#1a1a1a" stroke-width="1.1"/>
<text transform="translate(125.1,439.2) scale(1,1.14)" text-anchor="middle" class="t">9</text>
<line x1="147" y1="422.2" x2="147" y2="425.6" stroke="#1a1a1a" stroke-width="1.1"/>
<text transform="translate(147.7,439.2) scale(1,1.14)" text-anchor="middle" class="t">12</text>
<line x1="167.9" y1="422.2" x2="167.9" y2="425.6" stroke="#1a1a1a" stroke-width="1.1"/>
<text transform="translate(168.6,439.2) scale(1,1.14)" text-anchor="middle" class="t">15</text>
<line x1="188.8" y1="422.2" x2="188.8" y2="425.6" stroke="#1a1a1a" stroke-width="1.1"/>
<text transform="translate(189.5,439.2) scale(1,1.14)" text-anchor="middle" class="t">18</text>
<line x1="209.8" y1="422.2" x2="209.8" y2="425.6" stroke="#1a1a1a" stroke-width="1.1"/>
<text transform="translate(209.8,439.2) scale(1,1.14)" text-anchor="middle" class="t">21</text>
<line x1="230.6" y1="422.2" x2="230.6" y2="425.6" stroke="#1a1a1a" stroke-width="1.1"/>
<text transform="translate(230.6,439.2) scale(1,1.14)" text-anchor="middle" class="t">24</text>
<line x1="251.2" y1="422.2" x2="251.2" y2="425.6" stroke="#1a1a1a" stroke-width="1.1"/>
<text transform="translate(251.2,439.2) scale(1,1.14)" text-anchor="middle" class="t">27</text>
<line x1="270.7" y1="422.2" x2="270.7" y2="425.6" stroke="#1a1a1a" stroke-width="1.1"/>
<text transform="translate(270.7,439.2) scale(1,1.14)" text-anchor="middle" class="t">30</text>
<line x1="291.7" y1="422.2" x2="291.7" y2="425.6" stroke="#1a1a1a" stroke-width="1.1"/>
<text transform="translate(291.7,439.2) scale(1,1.14)" text-anchor="middle" class="t">33</text>
<polyline fill="none" stroke="#000" stroke-width="1.8" stroke-linejoin="round" points="70.19,243.8 77.18,243.8 84.17,243.8 91.16,243.8 98.15,243.8 105.14,243.8 112.13,243.8 119.12,243.8 126.11,249 133.1,256.4 140.09,274.5 147.08,289.2 154.07,299.3 161.06,319.2 168.05,342 175.04,362.7 182.03,376.8 189.02,387.4 196.01,393.9 203,397.5 209.99,400.9 216.98,404.7 223.97,412.2 230.96,418.1 237.95,418.1 244.94,421.7"/>
<polygon points="126.11,245.5 129.41,249 126.11,252.5 122.81,249" fill="#000"/>
<polygon points="133.1,252.9 136.4,256.4 133.1,259.9 129.8,256.4" fill="#000"/>
<polygon points="140.09,271 143.39,274.5 140.09,278 136.79,274.5" fill="#000"/>
<polygon points="147.08,285.7 150.38,289.2 147.08,292.7 143.78,289.2" fill="#000"/>
<polygon points="154.07,295.8 157.37,299.3 154.07,302.8 150.77,299.3" fill="#000"/>
<polygon points="161.06,315.7 164.36,319.2 161.06,322.7 157.76,319.2" fill="#000"/>
<polygon points="168.05,338.5 171.35,342 168.05,345.5 164.75,342" fill="#000"/>
<polygon points="175.04,359.2 178.34,362.7 175.04,366.2 171.74,362.7" fill="#000"/>
<polygon points="182.03,373.3 185.33,376.8 182.03,380.3 178.73,376.8" fill="#000"/>
<polygon points="189.02,383.9 192.32,387.4 189.02,390.9 185.72,387.4" fill="#000"/>
<polygon points="196.01,390.4 199.31,393.9 196.01,397.4 192.71,393.9" fill="#000"/>
<polygon points="203,394 206.3,397.5 203,401 199.7,397.5" fill="#000"/>
<polygon points="209.99,397.4 213.29,400.9 209.99,404.4 206.69,400.9" fill="#000"/>
<polygon points="216.98,401.2 220.28,404.7 216.98,408.2 213.68,404.7" fill="#000"/>
<polygon points="223.97,408.7 227.27,412.2 223.97,415.7 220.67,412.2" fill="#000"/>
<polygon points="230.96,414.6 234.26,418.1 230.96,421.6 227.66,418.1" fill="#000"/>
<polygon points="237.95,414.6 241.25,418.1 237.95,421.6 234.65,418.1" fill="#000"/>
<polygon points="244.94,418.2 248.24,421.7 244.94,425.2 241.64,421.7" fill="#000"/>
<polyline fill="none" stroke="#383838" stroke-width="1.65" stroke-linejoin="round" points="70.19,243.8 77.18,243.8 84.17,243.8 91.16,243.8 98.15,243.8 105.14,243.8 112.13,243.8 119.12,243.8 126.11,243.8 133.1,245.7 140.09,257.4 147.08,260.9 154.07,272.1 161.06,277.9 168.05,304.7 175.04,326.6 182.03,343.2 189.02,350.6 196.01,362.5 203,369.9 209.99,378.2 216.98,383.8 223.97,388 230.96,396.4 237.95,402.1 244.94,406.2 251.93,415.7 258.92,418.7 265.91,421.3"/>
<circle cx="70.19" cy="243.8" r="2.7" fill="#555" stroke="#303030" stroke-width="0.8"/>
<circle cx="77.18" cy="243.8" r="2.7" fill="#555" stroke="#303030" stroke-width="0.8"/>
<circle cx="84.17" cy="243.8" r="2.7" fill="#555" stroke="#303030" stroke-width="0.8"/>
<circle cx="91.16" cy="243.8" r="2.7" fill="#555" stroke="#303030" stroke-width="0.8"/>
<circle cx="98.15" cy="243.8" r="2.7" fill="#555" stroke="#303030" stroke-width="0.8"/>
<circle cx="105.14" cy="243.8" r="2.7" fill="#555" stroke="#303030" stroke-width="0.8"/>
<circle cx="112.13" cy="243.8" r="2.7" fill="#555" stroke="#303030" stroke-width="0.8"/>
<circle cx="119.12" cy="243.8" r="2.7" fill="#555" stroke="#303030" stroke-width="0.8"/>
<circle cx="126.11" cy="243.8" r="2.7" fill="#555" stroke="#303030" stroke-width="0.8"/>
<circle cx="133.1" cy="245.7" r="2.7" fill="#555" stroke="#303030" stroke-width="0.8"/>
<circle cx="140.09" cy="257.4" r="2.7" fill="#555" stroke="#303030" stroke-width="0.8"/>
<circle cx="147.08" cy="260.9" r="2.7" fill="#555" stroke="#303030" stroke-width="0.8"/>
<circle cx="154.07" cy="272.1" r="2.7" fill="#555" stroke="#303030" stroke-width="0.8"/>
<circle cx="161.06" cy="277.9" r="2.7" fill="#555" stroke="#303030" stroke-width="0.8"/>
<circle cx="168.05" cy="304.7" r="2.7" fill="#555" stroke="#303030" stroke-width="0.8"/>
<circle cx="175.04" cy="326.6" r="2.7" fill="#555" stroke="#303030" stroke-width="0.8"/>
<circle cx="182.03" cy="343.2" r="2.7" fill="#555" stroke="#303030" stroke-width="0.8"/>
<circle cx="189.02" cy="350.6" r="2.7" fill="#555" stroke="#303030" stroke-width="0.8"/>
<circle cx="196.01" cy="362.5" r="2.7" fill="#555" stroke="#303030" stroke-width="0.8"/>
<circle cx="203" cy="369.9" r="2.7" fill="#555" stroke="#303030" stroke-width="0.8"/>
<circle cx="209.99" cy="378.2" r="2.7" fill="#555" stroke="#303030" stroke-width="0.8"/>
<circle cx="216.98" cy="383.8" r="2.7" fill="#555" stroke="#303030" stroke-width="0.8"/>
<circle cx="223.97" cy="388" r="2.7" fill="#555" stroke="#303030" stroke-width="0.8"/>
<circle cx="230.96" cy="396.4" r="2.7" fill="#555" stroke="#303030" stroke-width="0.8"/>
<circle cx="237.95" cy="402.1" r="2.7" fill="#555" stroke="#303030" stroke-width="0.8"/>
<circle cx="244.94" cy="406.2" r="2.7" fill="#555" stroke="#303030" stroke-width="0.8"/>
<circle cx="251.93" cy="415.7" r="2.7" fill="#555" stroke="#303030" stroke-width="0.8"/>
<circle cx="258.92" cy="418.7" r="2.7" fill="#555" stroke="#303030" stroke-width="0.8"/>
<circle cx="265.91" cy="421.3" r="2.7" fill="#555" stroke="#303030" stroke-width="0.8"/>
<polyline fill="none" stroke="#7a7a7a" stroke-width="1.6" stroke-linejoin="round" points="70.19,244 77.18,244 84.17,244 91.16,244 98.15,244 105.14,244 112.13,251 119.12,253.8 126.11,256.9 133.1,265.8 140.09,296.4 147.08,315.8 154.07,331.5 161.06,358.6 168.05,379.2 175.04,389.1 182.03,399.5 189.02,403.8 196.01,409.7 203,417.9 209.99,418.9 216.98,421.8"/>
<polygon points="112.13,247.6 115.33,253.89 108.93,253.89" fill="#7a7a7a" stroke="#707070" stroke-width="0.5"/>
<polygon points="119.12,250.4 122.32,256.69 115.92,256.69" fill="#7a7a7a" stroke="#707070" stroke-width="0.5"/>
<polygon points="126.11,253.5 129.31,259.79 122.91,259.79" fill="#7a7a7a" stroke="#707070" stroke-width="0.5"/>
<polygon points="133.1,262.4 136.3,268.69 129.9,268.69" fill="#7a7a7a" stroke="#707070" stroke-width="0.5"/>
<polygon points="140.09,293 143.29,299.29 136.89,299.29" fill="#7a7a7a" stroke="#707070" stroke-width="0.5"/>
<polygon points="147.08,312.4 150.28,318.69 143.88,318.69" fill="#7a7a7a" stroke="#707070" stroke-width="0.5"/>
<polygon points="154.07,328.1 157.27,334.39 150.87,334.39" fill="#7a7a7a" stroke="#707070" stroke-width="0.5"/>
<polygon points="161.06,355.2 164.26,361.49 157.86,361.49" fill="#7a7a7a" stroke="#707070" stroke-width="0.5"/>
<polygon points="168.05,375.8 171.25,382.09 164.85,382.09" fill="#7a7a7a" stroke="#707070" stroke-width="0.5"/>
<polygon points="175.04,385.7 178.24,391.99 171.84,391.99" fill="#7a7a7a" stroke="#707070" stroke-width="0.5"/>
<polygon points="182.03,396.1 185.23,402.39 178.83,402.39" fill="#7a7a7a" stroke="#707070" stroke-width="0.5"/>
<polygon points="189.02,400.4 192.22,406.69 185.82,406.69" fill="#7a7a7a" stroke="#707070" stroke-width="0.5"/>
<polygon points="196.01,406.3 199.21,412.59 192.81,412.59" fill="#7a7a7a" stroke="#707070" stroke-width="0.5"/>
<polygon points="203,414.5 206.2,420.79 199.8,420.79" fill="#7a7a7a" stroke="#707070" stroke-width="0.5"/>
<polygon points="209.99,415.5 213.19,421.79 206.79,421.79" fill="#7a7a7a" stroke="#707070" stroke-width="0.5"/>
<polygon points="216.98,418.4 220.18,424.69 213.78,424.69" fill="#7a7a7a" stroke="#707070" stroke-width="0.5"/>
<polyline fill="none" stroke="#383838" stroke-width="1.65" stroke-linejoin="round" points="70.19,244 77.18,244 84.17,244 91.16,244 98.15,244 105.14,245.7 112.13,247.6 119.12,249.6 126.11,253.5 133.1,260.4 140.09,286.3 147.08,300 154.07,337 161.06,350.6 168.05,372.4 175.04,385 182.03,399.9 189.02,404.8 196.01,408.2 203,412.6 209.99,415.5 216.98,418.3 223.97,419.3 230.96,422.3"/>
<rect x="67.8" y="242.31" width="4.78" height="4.78" fill="#4d4d4d" stroke="#383838" stroke-width="0.6"/>
<rect x="74.79" y="242.31" width="4.78" height="4.78" fill="#4d4d4d" stroke="#383838" stroke-width="0.6"/>
<rect x="81.78" y="242.31" width="4.78" height="4.78" fill="#4d4d4d" stroke="#383838" stroke-width="0.6"/>
<rect x="88.77" y="242.31" width="4.78" height="4.78" fill="#4d4d4d" stroke="#383838" stroke-width="0.6"/>
<rect x="95.76" y="242.31" width="4.78" height="4.78" fill="#4d4d4d" stroke="#383838" stroke-width="0.6"/>
<rect x="102.75" y="243.31" width="4.78" height="4.78" fill="#4d4d4d" stroke="#383838" stroke-width="0.6"/>
<rect x="109.74" y="245.21" width="4.78" height="4.78" fill="#4d4d4d" stroke="#383838" stroke-width="0.6"/>
<rect x="116.73" y="247.21" width="4.78" height="4.78" fill="#4d4d4d" stroke="#383838" stroke-width="0.6"/>
<rect x="123.72" y="251.11" width="4.78" height="4.78" fill="#4d4d4d" stroke="#383838" stroke-width="0.6"/>
<rect x="130.71" y="258.01" width="4.78" height="4.78" fill="#4d4d4d" stroke="#383838" stroke-width="0.6"/>
<rect x="137.7" y="283.91" width="4.78" height="4.78" fill="#4d4d4d" stroke="#383838" stroke-width="0.6"/>
<rect x="144.69" y="297.61" width="4.78" height="4.78" fill="#4d4d4d" stroke="#383838" stroke-width="0.6"/>
<rect x="151.68" y="334.61" width="4.78" height="4.78" fill="#4d4d4d" stroke="#383838" stroke-width="0.6"/>
<rect x="158.67" y="348.21" width="4.78" height="4.78" fill="#4d4d4d" stroke="#383838" stroke-width="0.6"/>
<rect x="165.66" y="370.01" width="4.78" height="4.78" fill="#4d4d4d" stroke="#383838" stroke-width="0.6"/>
<rect x="172.65" y="382.61" width="4.78" height="4.78" fill="#4d4d4d" stroke="#383838" stroke-width="0.6"/>
<rect x="179.64" y="397.51" width="4.78" height="4.78" fill="#4d4d4d" stroke="#383838" stroke-width="0.6"/>
<rect x="186.63" y="402.41" width="4.78" height="4.78" fill="#4d4d4d" stroke="#383838" stroke-width="0.6"/>
<rect x="193.62" y="405.81" width="4.78" height="4.78" fill="#4d4d4d" stroke="#383838" stroke-width="0.6"/>
<rect x="200.61" y="410.21" width="4.78" height="4.78" fill="#4d4d4d" stroke="#383838" stroke-width="0.6"/>
<rect x="207.6" y="413.11" width="4.78" height="4.78" fill="#4d4d4d" stroke="#383838" stroke-width="0.6"/>
<rect x="214.59" y="415.91" width="4.78" height="4.78" fill="#4d4d4d" stroke="#383838" stroke-width="0.6"/>
<rect x="221.58" y="416.91" width="4.78" height="4.78" fill="#4d4d4d" stroke="#383838" stroke-width="0.6"/>
<rect x="228.57" y="419.91" width="4.78" height="4.78" fill="#4d4d4d" stroke="#383838" stroke-width="0.6"/>
<line x1="172.6" y1="245.6" x2="194.8" y2="245.6" stroke="#000" stroke-width="1.8"/>
<polygon points="184.3,241.34 187.98,245.6 184.3,249.85 180.62,245.6" fill="#000"/>
<text x="199.9" y="249.4" class="l">WT</text>
<line x1="172.6" y1="259.3" x2="194.8" y2="259.3" stroke="#383838" stroke-width="1.65"/>
<circle cx="184.3" cy="259.3" r="3.79" fill="#4d4d4d" stroke="#383838" stroke-width="0.7"/>
<text x="199.9" y="263.2" class="l">WT + Resv</text>
<line x1="172.6" y1="271.6" x2="194.8" y2="271.6" stroke="#7a7a7a" stroke-width="1.6"/>
<polygon points="184.3,266.77 188.04,274.48 180.56,274.48" fill="#7a7a7a" stroke="#707070" stroke-width="0.5"/>
<text x="199.9" y="275.8" class="l"><tspan font-style="italic">bec-1(RNAi)</tspan></text>
<line x1="172.6" y1="286.3" x2="194.8" y2="286.3" stroke="#383838" stroke-width="1.65"/>
<rect x="180.3" y="282" width="8" height="8.4" fill="#4d4d4d" stroke="#383838" stroke-width="0.7"/>
<text x="199.9" y="289.9" class="l"><tspan font-style="italic">bec-1(RNAi)</tspan> + Resv</text>
<text x="172.3" y="457.5" text-anchor="middle" class="h">Days</text>
<text transform="translate(34.3,333.3) rotate(-90)" text-anchor="middle" class="h">% survival</text>
<text x="24.6" y="249" class="p">c</text>
<line x1="357" y1="243" x2="357" y2="423" stroke="#1a1a1a" stroke-width="1.6"/>
<line x1="356.2" y1="422.2" x2="585.9" y2="422.2" stroke="#1a1a1a" stroke-width="1.6"/>
<line x1="354" y1="422.2" x2="357" y2="422.2" stroke="#1a1a1a" stroke-width="1.1"/>
<text transform="translate(347.4,425.4) scale(1,1.14)" text-anchor="end" class="t">0</text>
<line x1="354" y1="386.46" x2="357" y2="386.46" stroke="#1a1a1a" stroke-width="1.1"/>
<text transform="translate(347.4,389.66) scale(1,1.14)" text-anchor="end" class="t">20</text>
<line x1="354" y1="350.72" x2="357" y2="350.72" stroke="#1a1a1a" stroke-width="1.1"/>
<text transform="translate(347.4,353.92) scale(1,1.14)" text-anchor="end" class="t">40</text>
<line x1="354" y1="314.98" x2="357" y2="314.98" stroke="#1a1a1a" stroke-width="1.1"/>
<text transform="translate(347.4,318.18) scale(1,1.14)" text-anchor="end" class="t">60</text>
<line x1="354" y1="279.24" x2="357" y2="279.24" stroke="#1a1a1a" stroke-width="1.1"/>
<text transform="translate(347.4,282.44) scale(1,1.14)" text-anchor="end" class="t">80</text>
<line x1="354" y1="243.5" x2="357" y2="243.5" stroke="#1a1a1a" stroke-width="1.1"/>
<text transform="translate(347.4,246.7) scale(1,1.14)" text-anchor="end" class="t">100</text>
<line x1="357" y1="422.2" x2="357" y2="425.6" stroke="#1a1a1a" stroke-width="1.1"/>
<text transform="translate(356.8,440.6) scale(1,1.14)" text-anchor="middle" class="t">0</text>
<line x1="378.2" y1="422.2" x2="378.2" y2="425.6" stroke="#1a1a1a" stroke-width="1.1"/>
<text transform="translate(378,440.6) scale(1,1.14)" text-anchor="middle" class="t">3</text>
<line x1="399.2" y1="422.2" x2="399.2" y2="425.6" stroke="#1a1a1a" stroke-width="1.1"/>
<text transform="translate(399,440.6) scale(1,1.14)" text-anchor="middle" class="t">6</text>
<line x1="420.3" y1="422.2" x2="420.3" y2="425.6" stroke="#1a1a1a" stroke-width="1.1"/>
<text transform="translate(420.1,440.6) scale(1,1.14)" text-anchor="middle" class="t">9</text>
<line x1="440.9" y1="422.2" x2="440.9" y2="425.6" stroke="#1a1a1a" stroke-width="1.1"/>
<text transform="translate(441.6,440.6) scale(1,1.14)" text-anchor="middle" class="t">12</text>
<line x1="461.8" y1="422.2" x2="461.8" y2="425.6" stroke="#1a1a1a" stroke-width="1.1"/>
<text transform="translate(462.5,440.6) scale(1,1.14)" text-anchor="middle" class="t">15</text>
<line x1="482.7" y1="422.2" x2="482.7" y2="425.6" stroke="#1a1a1a" stroke-width="1.1"/>
<text transform="translate(483.4,440.6) scale(1,1.14)" text-anchor="middle" class="t">18</text>
<line x1="503.3" y1="422.2" x2="503.3" y2="425.6" stroke="#1a1a1a" stroke-width="1.1"/>
<text transform="translate(503.3,440.6) scale(1,1.14)" text-anchor="middle" class="t">21</text>
<line x1="524.7" y1="422.2" x2="524.7" y2="425.6" stroke="#1a1a1a" stroke-width="1.1"/>
<text transform="translate(524.7,440.6) scale(1,1.14)" text-anchor="middle" class="t">24</text>
<line x1="545" y1="422.2" x2="545" y2="425.6" stroke="#1a1a1a" stroke-width="1.1"/>
<text transform="translate(545,440.6) scale(1,1.14)" text-anchor="middle" class="t">27</text>
<line x1="564.6" y1="422.2" x2="564.6" y2="425.6" stroke="#1a1a1a" stroke-width="1.1"/>
<text transform="translate(564.6,440.6) scale(1,1.14)" text-anchor="middle" class="t">30</text>
<line x1="585.4" y1="422.2" x2="585.4" y2="425.6" stroke="#1a1a1a" stroke-width="1.1"/>
<text transform="translate(585.4,440.6) scale(1,1.14)" text-anchor="middle" class="t">33</text>
<polyline fill="none" stroke="#000" stroke-width="1.8" stroke-linejoin="round" points="362.6,242 369.65,242 376.7,242 383.75,242 390.8,242 397.85,242 404.9,242 411.95,246.1 419,252.4 426.05,256.6 433.1,272.7 440.15,287.1 447.2,297.8 454.25,317.8 461.3,340.7 468.35,361.9 475.4,375.6 482.45,385.5 489.5,393.2 496.55,396.4 503.6,400.3 510.65,403.8 517.7,411.6 524.75,418.1 531.8,418.1 538.85,420.8"/>
<polygon points="411.95,242.6 415.25,246.1 411.95,249.6 408.65,246.1" fill="#000"/>
<polygon points="419,248.9 422.3,252.4 419,255.9 415.7,252.4" fill="#000"/>
<polygon points="426.05,253.1 429.35,256.6 426.05,260.1 422.75,256.6" fill="#000"/>
<polygon points="433.1,269.2 436.4,272.7 433.1,276.2 429.8,272.7" fill="#000"/>
<polygon points="440.15,283.6 443.45,287.1 440.15,290.6 436.85,287.1" fill="#000"/>
<polygon points="447.2,294.3 450.5,297.8 447.2,301.3 443.9,297.8" fill="#000"/>
<polygon points="454.25,314.3 457.55,317.8 454.25,321.3 450.95,317.8" fill="#000"/>
<polygon points="461.3,337.2 464.6,340.7 461.3,344.2 458,340.7" fill="#000"/>
<polygon points="468.35,358.4 471.65,361.9 468.35,365.4 465.05,361.9" fill="#000"/>
<polygon points="475.4,372.1 478.7,375.6 475.4,379.1 472.1,375.6" fill="#000"/>
<polygon points="482.45,382 485.75,385.5 482.45,389 479.15,385.5" fill="#000"/>
<polygon points="489.5,389.7 492.8,393.2 489.5,396.7 486.2,393.2" fill="#000"/>
<polygon points="496.55,392.9 499.85,396.4 496.55,399.9 493.25,396.4" fill="#000"/>
<polygon points="503.6,396.8 506.9,400.3 503.6,403.8 500.3,400.3" fill="#000"/>
<polygon points="510.65,400.3 513.95,403.8 510.65,407.3 507.35,403.8" fill="#000"/>
<polygon points="517.7,408.1 521,411.6 517.7,415.1 514.4,411.6" fill="#000"/>
<polygon points="524.75,414.6 528.05,418.1 524.75,421.6 521.45,418.1" fill="#000"/>
<polygon points="531.8,414.6 535.1,418.1 531.8,421.6 528.5,418.1" fill="#000"/>
<polygon points="538.85,417.3 542.15,420.8 538.85,424.3 535.55,420.8" fill="#000"/>
<polyline fill="none" stroke="#383838" stroke-width="1.65" stroke-linejoin="round" points="362.6,241.8 369.65,241.8 376.7,241.8 383.75,241.8 390.8,241.8 397.85,241.8 404.9,241.8 411.95,241.8 419,241.8 426.05,241.8 433.1,241.8 440.15,244.6 447.2,244.2 454.25,249.8 461.3,252.3 468.35,257.6 475.4,273.2 482.45,302.2 489.5,321.8 496.55,338.1 503.6,351.7 510.65,359 517.7,366.9 524.75,374.7 531.8,379.5 538.85,385.1 545.9,390.8 552.95,400.9 560,404.7 567.05,411.1 574.1,415.8 581.15,415.8 588.2,420.3"/>
<circle cx="362.6" cy="241.8" r="2.7" fill="#555" stroke="#303030" stroke-width="0.8"/>
<circle cx="369.65" cy="241.8" r="2.7" fill="#555" stroke="#303030" stroke-width="0.8"/>
<circle cx="376.7" cy="241.8" r="2.7" fill="#555" stroke="#303030" stroke-width="0.8"/>
<circle cx="383.75" cy="241.8" r="2.7" fill="#555" stroke="#303030" stroke-width="0.8"/>
<circle cx="390.8" cy="241.8" r="2.7" fill="#555" stroke="#303030" stroke-width="0.8"/>
<circle cx="397.85" cy="241.8" r="2.7" fill="#555" stroke="#303030" stroke-width="0.8"/>
<circle cx="404.9" cy="241.8" r="2.7" fill="#555" stroke="#303030" stroke-width="0.8"/>
<circle cx="411.95" cy="241.8" r="2.7" fill="#555" stroke="#303030" stroke-width="0.8"/>
<circle cx="419" cy="241.8" r="2.7" fill="#555" stroke="#303030" stroke-width="0.8"/>
<circle cx="426.05" cy="241.8" r="2.7" fill="#555" stroke="#303030" stroke-width="0.8"/>
<circle cx="433.1" cy="241.8" r="2.7" fill="#555" stroke="#303030" stroke-width="0.8"/>
<circle cx="440.15" cy="244.6" r="2.7" fill="#555" stroke="#303030" stroke-width="0.8"/>
<circle cx="447.2" cy="244.2" r="2.7" fill="#555" stroke="#303030" stroke-width="0.8"/>
<circle cx="454.25" cy="249.8" r="2.7" fill="#555" stroke="#303030" stroke-width="0.8"/>
<circle cx="461.3" cy="252.3" r="2.7" fill="#555" stroke="#303030" stroke-width="0.8"/>
<circle cx="468.35" cy="257.6" r="2.7" fill="#555" stroke="#303030" stroke-width="0.8"/>
<circle cx="475.4" cy="273.2" r="2.7" fill="#555" stroke="#303030" stroke-width="0.8"/>
<circle cx="482.45" cy="302.2" r="2.7" fill="#555" stroke="#303030" stroke-width="0.8"/>
<circle cx="489.5" cy="321.8" r="2.7" fill="#555" stroke="#303030" stroke-width="0.8"/>
<circle cx="496.55" cy="338.1" r="2.7" fill="#555" stroke="#303030" stroke-width="0.8"/>
<circle cx="503.6" cy="351.7" r="2.7" fill="#555" stroke="#303030" stroke-width="0.8"/>
<circle cx="510.65" cy="359" r="2.7" fill="#555" stroke="#303030" stroke-width="0.8"/>
<circle cx="517.7" cy="366.9" r="2.7" fill="#555" stroke="#303030" stroke-width="0.8"/>
<circle cx="524.75" cy="374.7" r="2.7" fill="#555" stroke="#303030" stroke-width="0.8"/>
<circle cx="531.8" cy="379.5" r="2.7" fill="#555" stroke="#303030" stroke-width="0.8"/>
<circle cx="538.85" cy="385.1" r="2.7" fill="#555" stroke="#303030" stroke-width="0.8"/>
<circle cx="545.9" cy="390.8" r="2.7" fill="#555" stroke="#303030" stroke-width="0.8"/>
<circle cx="552.95" cy="400.9" r="2.7" fill="#555" stroke="#303030" stroke-width="0.8"/>
<circle cx="560" cy="404.7" r="2.7" fill="#555" stroke="#303030" stroke-width="0.8"/>
<circle cx="567.05" cy="411.1" r="2.7" fill="#555" stroke="#303030" stroke-width="0.8"/>
<circle cx="574.1" cy="415.8" r="2.7" fill="#555" stroke="#303030" stroke-width="0.8"/>
<circle cx="581.15" cy="415.8" r="2.7" fill="#555" stroke="#303030" stroke-width="0.8"/>
<circle cx="588.2" cy="420.3" r="2.7" fill="#555" stroke="#303030" stroke-width="0.8"/>
<polyline fill="none" stroke="#7a7a7a" stroke-width="1.6" stroke-linejoin="round" points="362.6,241.8 369.65,241.8 376.7,241.8 383.75,241.8 390.8,241.8 397.85,241.8 404.9,241.8 411.95,241.8 419,241.8 426.05,241.8 433.1,247.1 440.15,247.6 447.2,251.5 454.25,254.7 461.3,257.1 468.35,268.3 475.4,288.5 482.45,319 489.5,342.8 496.55,352.5 503.6,363.4 510.65,368.8 517.7,378.1 524.75,382 531.8,389.2 538.85,397.1 545.9,399.8 552.95,405.7 560,408.4 567.05,418.2 574.1,418.7 581.15,420.8"/>
<polygon points="362.6,239 365.8,245.29 359.4,245.29" fill="#7a7a7a" stroke="#707070" stroke-width="0.5"/>
<polygon points="369.65,239 372.85,245.29 366.45,245.29" fill="#7a7a7a" stroke="#707070" stroke-width="0.5"/>
<polygon points="376.7,239 379.9,245.29 373.5,245.29" fill="#7a7a7a" stroke="#707070" stroke-width="0.5"/>
<polygon points="383.75,239 386.95,245.29 380.55,245.29" fill="#7a7a7a" stroke="#707070" stroke-width="0.5"/>
<polygon points="390.8,239 394,245.29 387.6,245.29" fill="#7a7a7a" stroke="#707070" stroke-width="0.5"/>
<polygon points="397.85,239 401.05,245.29 394.65,245.29" fill="#7a7a7a" stroke="#707070" stroke-width="0.5"/>
<polygon points="404.9,239 408.1,245.29 401.7,245.29" fill="#7a7a7a" stroke="#707070" stroke-width="0.5"/>
<polygon points="411.95,239 415.15,245.29 408.75,245.29" fill="#7a7a7a" stroke="#707070" stroke-width="0.5"/>
<polygon points="419,239 422.2,245.29 415.8,245.29" fill="#7a7a7a" stroke="#707070" stroke-width="0.5"/>
<polygon points="426.05,239 429.25,245.29 422.85,245.29" fill="#7a7a7a" stroke="#707070" stroke-width="0.5"/>
<polygon points="433.1,243.7 436.3,249.99 429.9,249.99" fill="#7a7a7a" stroke="#707070" stroke-width="0.5"/>
<polygon points="440.15,244.2 443.35,250.49 436.95,250.49" fill="#7a7a7a" stroke="#707070" stroke-width="0.5"/>
<polygon points="447.2,248.1 450.4,254.39 444,254.39" fill="#7a7a7a" stroke="#707070" stroke-width="0.5"/>
<polygon points="454.25,251.3 457.45,257.59 451.05,257.59" fill="#7a7a7a" stroke="#707070" stroke-width="0.5"/>
<polygon points="461.3,253.7 464.5,259.99 458.1,259.99" fill="#7a7a7a" stroke="#707070" stroke-width="0.5"/>
<polygon points="468.35,264.9 471.55,271.19 465.15,271.19" fill="#7a7a7a" stroke="#707070" stroke-width="0.5"/>
<polygon points="475.4,285.1 478.6,291.39 472.2,291.39" fill="#7a7a7a" stroke="#707070" stroke-width="0.5"/>
<polygon points="482.45,315.6 485.65,321.89 479.25,321.89" fill="#7a7a7a" stroke="#707070" stroke-width="0.5"/>
<polygon points="489.5,339.4 492.7,345.69 486.3,345.69" fill="#7a7a7a" stroke="#707070" stroke-width="0.5"/>
<polygon points="496.55,349.1 499.75,355.39 493.35,355.39" fill="#7a7a7a" stroke="#707070" stroke-width="0.5"/>
<polygon points="503.6,360 506.8,366.29 500.4,366.29" fill="#7a7a7a" stroke="#707070" stroke-width="0.5"/>
<polygon points="510.65,365.4 513.85,371.69 507.45,371.69" fill="#7a7a7a" stroke="#707070" stroke-width="0.5"/>
<polygon points="517.7,374.7 520.9,380.99 514.5,380.99" fill="#7a7a7a" stroke="#707070" stroke-width="0.5"/>
<polygon points="524.75,378.6 527.95,384.89 521.55,384.89" fill="#7a7a7a" stroke="#707070" stroke-width="0.5"/>
<polygon points="531.8,385.8 535,392.09 528.6,392.09" fill="#7a7a7a" stroke="#707070" stroke-width="0.5"/>
<polygon points="538.85,393.7 542.05,399.99 535.65,399.99" fill="#7a7a7a" stroke="#707070" stroke-width="0.5"/>
<polygon points="545.9,396.4 549.1,402.69 542.7,402.69" fill="#7a7a7a" stroke="#707070" stroke-width="0.5"/>
<polygon points="552.95,402.3 556.15,408.59 549.75,408.59" fill="#7a7a7a" stroke="#707070" stroke-width="0.5"/>
<polygon points="560,405 563.2,411.29 556.8,411.29" fill="#7a7a7a" stroke="#707070" stroke-width="0.5"/>
<polygon points="567.05,414.8 570.25,421.09 563.85,421.09" fill="#7a7a7a" stroke="#707070" stroke-width="0.5"/>
<polygon points="574.1,415.3 577.3,421.59 570.9,421.59" fill="#7a7a7a" stroke="#707070" stroke-width="0.5"/>
<polygon points="581.15,417.4 584.35,423.69 577.95,423.69" fill="#7a7a7a" stroke="#707070" stroke-width="0.5"/>
<line x1="482.3" y1="244" x2="504.6" y2="244" stroke="#000" stroke-width="1.8"/>
<polygon points="493.45,240.3 496.65,244 493.45,247.7 490.25,244" fill="#000"/>
<text x="510.2" y="247.8" class="l">WT</text>
<line x1="482.3" y1="258.7" x2="504.6" y2="258.7" stroke="#383838" stroke-width="1.65"/>
<circle cx="493.45" cy="258.7" r="3.3" fill="#4d4d4d" stroke="#383838" stroke-width="0.7"/>
<text x="510.2" y="260.6" class="l"><tspan font-style="italic" font-weight="bold" font-size="10.6px" stroke-width="0">geIn3</tspan></text>
<line x1="482.3" y1="272.3" x2="504.6" y2="272.3" stroke="#7a7a7a" stroke-width="1.6"/>
<polygon points="493.45,268.1 496.7,274.8 490.2,274.8" fill="#7a7a7a" stroke="#707070" stroke-width="0.5"/>
<text x="510.2" y="274.5" class="l"><tspan font-style="italic" font-weight="bold" font-size="10.6px" stroke-width="0">geIn3;cep-1(RNAi)</tspan></text>
<text x="468.2" y="459.4" text-anchor="middle" class="h">Days</text>
<text transform="translate(322.6,333.3) rotate(-90)" text-anchor="middle" class="h">% survival</text>
<text x="312.4" y="253.5" class="p">d</text>
</svg>
</body></html>
